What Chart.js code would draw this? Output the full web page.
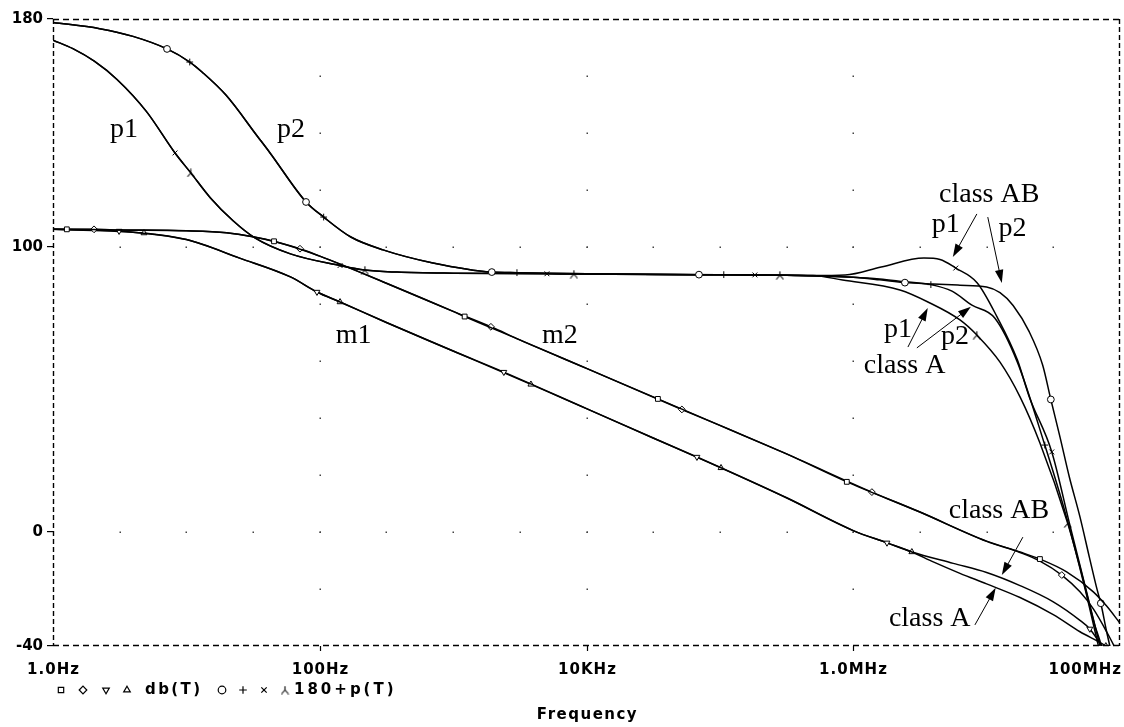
<!DOCTYPE html>
<html>
<head>
<meta charset="utf-8">
<script src="https://cdn.jsdelivr.net/npm/chart.js@4.4.1/dist/chart.umd.min.js"></script>
<style>
  html, body { margin: 0; padding: 0; background: #fff; }
  #wrap { width: 1124px; height: 727px; }
</style>
</head>
<body>
<div id="wrap"><canvas id="bode" width="1124" height="727"></canvas></div>
<script>
// ---- axis ticks ----
const xTickValues = [1, 100, 1e4, 1e6, 1e8];
const xTickLabels = ['1.0Hz', '100Hz', '10KHz', '1.0MHz', '100MHz'];
const yTickValues = [-40, 0, 100, 180];

// ---- db(T): m2, class AB (square) ----
const m2AbFreq = [1, 1.27, 3.16, 10, 20, 31.6, 45.4, 100, 316, 1000, 1220, 3160, 1e4, 34300, 1e5, 316000, 895000, 3.16e6, 1e7, 1.78e7, 2.51e7, 3.98e7, 6.31e7, 7.94e7, 1e8];
const m2AbDb   = [106.2, 106.2, 106.0, 105.7, 105.0, 103.6, 102.0, 96.8, 87.3, 77.4, 75.6, 67.4, 57.4, 46.7, 37.4, 27.4, 17.6, 7.0, -3.2, -7.0, -9.5, -14.0, -21.0, -26.0, -32.0];
const m2AbMarks = [1.27, 45.4, 1220, 34300, 895000, 2.51e7];

// ---- db(T): m2, class A (diamond) ----
const m2AFreq = [1, 2.03, 3.16, 10, 20, 31.6, 71.1, 100, 316, 1000, 1920, 3160, 1e4, 51900, 1e5, 316000, 1.38e6, 3.16e6, 1e7, 1.78e7, 2.51e7, 3.66e7, 5.01e7, 6.31e7, 7.94e7, 1e8];
const m2ADb   = [106.2, 106.2, 106.0, 105.7, 105.0, 103.6, 99.4, 96.8, 87.3, 77.4, 72.0, 67.4, 57.4, 43.0, 37.4, 27.4, 14.0, 7.0, -3.3, -7.2, -10.2, -15.1, -21.0, -27.0, -35.0, -44.0];
const m2AMarks = [2.03, 71.1, 1920, 51900, 1.38e6, 3.66e7];

// ---- db(T): m1, class AB (triangle down) ----
const m1AbFreq = [1, 3.13, 10, 25.1, 60.3, 95.3, 142, 316, 1000, 2400, 1e4, 31600, 67300, 316000, 1e6, 1.79e6, 2.75e6, 5.62e6, 1e7, 1.78e7, 3.16e7, 5.01e7, 5.94e7, 7.08e7, 1e8];
const m1AbDb   = [106.2, 105.6, 102.6, 96.1, 89.5, 84.2, 80.7, 73.5, 63.5, 56.1, 43.3, 33.0, 26.3, 12.0, 0.5, -3.8, -7.0, -11.0, -14.2, -18.8, -24.5, -31.0, -34.0, -39.0, -48.0];
const m1AbMarks = [3.13, 95.3, 2400, 67300, 1.79e6, 5.94e7];

// ---- db(T): m1, class A (triangle up) ----
const m1AFreq = [1, 4.81, 10, 25.1, 60.3, 95.3, 142, 316, 1000, 3830, 1e4, 31600, 102000, 316000, 1e6, 1.79e6, 2.75e6, 3.98e6, 6.31e6, 1e7, 1.78e7, 3.16e7, 5.01e7, 7.83e7, 1e8];
const m1ADb   = [106.2, 104.9, 102.6, 96.1, 89.5, 84.2, 80.7, 73.5, 63.5, 51.8, 43.3, 33.0, 22.5, 12.0, 0.5, -3.8, -7.0, -10.5, -14.5, -18.2, -23.0, -29.0, -35.0, -40.0, -44.0];
const m1AMarks = [4.81, 142, 3830, 102000, 2.75e6, 7.83e7];

// ---- 180+p(T): p2, class AB (circle) ----
const p2AbFreq  = [1, 2.24, 3.98, 7.16, 10.6, 13.1, 19.8, 34.4, 42.4, 78.9, 107, 171, 298, 706, 1950, 3010, 1e4, 69700, 107000, 316000, 1e6, 1.58e6, 2.44e6, 3.98e6, 6.31e6, 1e7, 1.26e7, 1.58e7, 2.09e7, 2.63e7, 3.03e7, 3.55e7, 4.17e7, 5.01e7, 5.89e7, 6.76e7, 7.18e7, 7.94e7, 1e8];
const p2AbPhase = [178.8, 176.6, 173.9, 169.5, 164.9, 161.4, 153.3, 138.6, 133.0, 115.8, 110.5, 103.5, 99.0, 94.4, 91.2, 91.0, 90.6, 90.3, 90.3, 90.1, 89.4, 88.5, 87.5, 87.0, 86.6, 86.0, 84.0, 79.5, 70.2, 58.6, 46.5, 33.3, 19.3, 5.3, -8.8, -20.5, -25.0, -35.0, -55.0];
const p2AbMarks = [7.16, 78.9, 1950, 69700, 2.44e6, 3.03e7, 7.18e7];

// ---- 180+p(T): p2, class A (plus) ----
const p2AFreq  = [1, 2.24, 3.98, 7.16, 10.6, 13.1, 19.8, 34.4, 42.4, 78.9, 107, 171, 298, 706, 1950, 3010, 1e4, 69700, 107000, 316000, 1e6, 1.58e6, 2.44e6, 3.82e6, 5.5e6, 7.76e6, 1.15e7, 1.7e7, 2.73e7, 3.89e7, 5.5e7, 6.46e7, 7.94e7, 1e8];
const p2APhase = [178.8, 176.6, 173.9, 169.5, 164.9, 161.4, 153.3, 138.6, 133.0, 115.8, 110.5, 103.5, 99.0, 94.4, 91.2, 91.0, 90.6, 90.3, 90.3, 90.1, 89.4, 88.8, 87.8, 86.8, 84.5, 79.6, 75.1, 59.6, 30.5, 6.7, -20.4, -34.4, -52.0, -70.0];
const p2AMarks = [10.6, 107, 3010, 107000, 3.82e6, 2.73e7];

// ---- 180+p(T): p1, class AB (x) ----
const p1AbFreq  = [1, 1.41, 2.04, 3.02, 5.01, 8.22, 10.8, 15.1, 22.4, 32.4, 60.3, 142, 218, 380, 1000, 5050, 8050, 1e5, 183000, 282000, 500000, 871000, 1.62e6, 3.39e6, 4.47e6, 5.87e6, 8.51e6, 1.2e7, 1.7e7, 2.09e7, 3.08e7, 4.17e7, 5.89e7, 7.08e7, 1e8];
const p1AbPhase = [172.6, 169.6, 165.2, 158.8, 147.6, 133.0, 126.0, 117.3, 109.2, 103.3, 97.6, 93.5, 91.9, 91.2, 90.8, 90.6, 90.5, 90.3, 90.2, 90.1, 90.0, 90.2, 93.0, 96.1, 95.6, 92.6, 87.4, 75.4, 60.4, 47.4, 28.1, 3.2, -24.9, -40.0, -70.0];
const p1AbMarks = [8.22, 142, 5050, 183000, 5.87e6, 3.08e7];

// ---- 180+p(T): p1, class A (inverted Y) ----
const p1AFreq  = [1, 1.41, 2.04, 3.02, 5.01, 8.22, 10.8, 15.1, 22.4, 32.4, 60.3, 142, 218, 380, 1000, 5050, 8050, 1e5, 183000, 282000, 500000, 832000, 2.24e6, 3.63e6, 6.31e6, 8.45e6, 1.26e7, 1.78e7, 2.51e7, 4.06e7, 5.01e7, 6.46e7, 7.24e7, 1e8];
const p1APhase = [172.6, 169.6, 165.2, 158.8, 147.6, 133.0, 126.0, 117.3, 109.2, 103.3, 97.6, 93.5, 91.9, 91.2, 90.8, 90.6, 90.5, 90.3, 90.2, 90.1, 90.0, 88.4, 84.9, 80.7, 74.4, 69.1, 59.6, 47.4, 31.2, 3.0, -12.3, -32.6, -40.0, -75.0];
const p1AMarks = [10.8, 218, 8050, 282000, 8.45e6, 4.06e7];

// ---- hand-written notes: [text, frequency, value] at the text baseline start ----
const noteTexts = [
  ['p1', 2.67, 138.6], ['p2', 47.8, 138.6],
  ['m1', 132, 66.3], ['m2', 4630, 66.3],
  ['class AB', 4.4e6, 115.8], ['p1', 3.88e6, 105.3], ['p2', 1.23e7, 103.9],
  ['p1', 1.70e6, 68.4], ['p2', 4.54e6, 66.0], ['class A', 1.2e6, 55.8],
  ['class AB', 5.2e6, 4.9], ['class A', 1.85e6, -33.0]
];
// arrows: [fromFreq, fromValue, toFreq, toValue]
const noteArrows = [
  [8.45e6, 111.6, 5.58e6, 96.5],
  [1.02e7, 110.5, 1.30e7, 87.4],
  [2.57e6, 64.9, 3.62e6, 78.6],
  [3.0e6, 64.6, 7.62e6, 79.0],
  [1.87e7, -1.8, 1.30e7, -15.1],
  [8.17e6, -32.6, 1.17e7, -19.6]
];

// inverted-Y marker glyph
const invY = document.createElement('canvas');
invY.width = 9; invY.height = 9;
(function () {
  const g = invY.getContext('2d');
  g.strokeStyle = '#000'; g.lineWidth = 1.1;
  g.beginPath();
  g.moveTo(4.5, 0.5); g.lineTo(4.5, 4.5);
  g.moveTo(1, 8.5); g.lineTo(4.5, 4.5); g.lineTo(8, 8.5);
  g.stroke();
})();

const MARK_R = 3.4;
function trace(label, freq, vals, marks, style, rotation) {
  return {
    label,
    data: freq.map((f, i) => ({ x: f, y: vals[i] })),
    borderColor: '#000',
    borderWidth: 1.5,
    cubicInterpolationMode: 'monotone',
    pointStyle: style,
    pointRotation: rotation || 0,
    pointBorderColor: '#000',
    pointBackgroundColor: '#fff',
    pointBorderWidth: 1,
    pointRadius: c => (c.raw && marks.includes(c.raw.x)) ? MARK_R : 0,
    pointHoverRadius: 0
  };
}

const datasets = [
  trace('db(T) m2 class AB', m2AbFreq, m2AbDb, m2AbMarks, 'rect'),
  trace('db(T) m2 class A', m2AFreq, m2ADb, m2AMarks, 'rectRot'),
  trace('db(T) m1 class AB', m1AbFreq, m1AbDb, m1AbMarks, 'triangle', 180),
  trace('db(T) m1 class A', m1AFreq, m1ADb, m1AMarks, 'triangle'),
  trace('180+p(T) p2 class AB', p2AbFreq, p2AbPhase, p2AbMarks, 'circle'),
  trace('180+p(T) p2 class A', p2AFreq, p2APhase, p2AMarks, 'cross'),
  trace('180+p(T) p1 class AB', p1AbFreq, p1AbPhase, p1AbMarks, 'crossRot'),
  trace('180+p(T) p1 class A', p1AFreq, p1APhase, p1AMarks, invY)
];

const AXIS_FONT = 'bold 15px "DejaVu Sans"';
const NOTE_FONT = '28px "Liberation Serif"';

function drawArrow(ctx, x0, y0, x1, y1) {
  const ang = Math.atan2(y1 - y0, x1 - x0);
  const len = 13, half = 4.2;
  ctx.beginPath();
  ctx.moveTo(x0, y0);
  ctx.lineTo(x1 - Math.cos(ang) * (len - 2), y1 - Math.sin(ang) * (len - 2));
  ctx.stroke();
  ctx.beginPath();
  ctx.moveTo(x1, y1);
  ctx.lineTo(x1 - Math.cos(ang) * len - Math.sin(ang) * half, y1 - Math.sin(ang) * len + Math.cos(ang) * half);
  ctx.lineTo(x1 - Math.cos(ang) * len + Math.sin(ang) * half, y1 - Math.sin(ang) * len - Math.cos(ang) * half);
  ctx.closePath();
  ctx.fill();
}

const probeFrame = {
  id: 'probeFrame',
  beforeDraw(chart) {
    const ctx = chart.ctx;
    ctx.save();
    ctx.fillStyle = '#fff';
    ctx.fillRect(0, 0, chart.width, chart.height);
    ctx.restore();
  },
  beforeDatasetsDraw(chart) {
    const ctx = chart.ctx, xs = chart.scales.x, ys = chart.scales.y;
    ctx.save();
    ctx.fillStyle = '#444';
    // dotted grid: columns at the inner decade labels, rows at 100 and 0
    [100, 1e4, 1e6].forEach(f => {
      const x = Math.round(xs.getPixelForValue(f));
      for (let v = -20; v <= 160; v += 20) {
        ctx.fillRect(x - 0.5, Math.round(ys.getPixelForValue(v)) - 0.5, 1.5, 1.5);
      }
    });
    [100, 0].forEach(v => {
      const y = Math.round(ys.getPixelForValue(v));
      for (let k = 1; k < 16; k++) {
        ctx.fillRect(Math.round(xs.getPixelForValue(Math.pow(10, k / 2))) - 0.5, y - 0.5, 1.5, 1.5);
      }
    });
    ctx.restore();
  },
  afterDatasetsDraw(chart) {
    const ctx = chart.ctx, xs = chart.scales.x, ys = chart.scales.y;
    const a = chart.chartArea;
    ctx.save();
    // dashed frame
    ctx.strokeStyle = '#000';
    ctx.lineWidth = 1.4;
    ctx.setLineDash([6, 4]);
    ctx.beginPath();
    ctx.moveTo(a.left, a.top + 0.5); ctx.lineTo(a.right, a.top + 0.5);
    ctx.moveTo(a.left, a.bottom - 0.5); ctx.lineTo(a.right, a.bottom - 0.5);
    ctx.stroke();
    ctx.setLineDash([5, 3]);
    ctx.beginPath();
    ctx.moveTo(a.left + 0.5, a.top); ctx.lineTo(a.left + 0.5, a.bottom);
    ctx.moveTo(a.right - 0.5, a.top); ctx.lineTo(a.right - 0.5, a.bottom);
    ctx.stroke();
    ctx.setLineDash([]);

    // x ticks and labels
    ctx.lineWidth = 1.2;
    ctx.fillStyle = '#000';
    ctx.font = AXIS_FONT;
    ctx.letterSpacing = '1px';
    ctx.textBaseline = 'middle';
    xTickValues.forEach((f, i) => {
      const x = Math.round(xs.getPixelForValue(f)) + 0.5;
      if (i > 0 && i < xTickValues.length - 1) {
        ctx.beginPath(); ctx.moveTo(x, a.bottom); ctx.lineTo(x, a.bottom + 5); ctx.stroke();
      }
      const last = i === xTickValues.length - 1;
      ctx.textAlign = last ? 'right' : 'center';
      ctx.fillText(xTickLabels[i], last ? a.right + 2 : x, a.bottom + 24);
    });

    // legend row
    const ly = a.bottom + 44;
    const sym = [
      ['rect', 61, 0], ['rectRot', 83, 0], ['triangle', 106, 180], ['triangle', 127, 0],
      ['circle', 222, 0], ['cross', 243, 0], ['crossRot', 264, 0], [invY, 285, 0]
    ];
    ctx.strokeStyle = '#000';
    ctx.fillStyle = '#fff';
    ctx.lineWidth = 1.2;
    sym.forEach(s => {
      Chart.helpers.drawPoint(ctx, { pointStyle: s[0], rotation: s[2], radius: 3.8, borderWidth: 1.2 }, s[1], ly);
    });
    ctx.fillStyle = '#000';
    ctx.textAlign = 'left';
    ctx.letterSpacing = '2.4px';
    ctx.fillText('db(T)', 145, ly);
    ctx.letterSpacing = '3px';
    ctx.fillText('180+p(T)', 294, ly);

    // x axis title
    ctx.letterSpacing = '1.5px';
    ctx.textAlign = 'center';
    ctx.fillText('Frequency', (a.left + a.right) / 2 + 1, a.bottom + 69);
    ctx.letterSpacing = '0px';

    // hand-written notes and arrows
    ctx.font = NOTE_FONT;
    ctx.textAlign = 'left';
    ctx.textBaseline = 'alphabetic';
    noteTexts.forEach(n => {
      ctx.fillText(n[0], xs.getPixelForValue(n[1]), ys.getPixelForValue(n[2]));
    });
    ctx.lineWidth = 1;
    ctx.strokeStyle = '#000';
    noteArrows.forEach(r => {
      drawArrow(ctx, xs.getPixelForValue(r[0]), ys.getPixelForValue(r[1]),
                xs.getPixelForValue(r[2]), ys.getPixelForValue(r[3]));
    });
    ctx.restore();
  }
};

new Chart(document.getElementById('bode'), {
  type: 'line',
  data: { datasets },
  options: {
    responsive: false,
    animation: false,
    events: [],
    layout: { padding: { left: 0, top: 19, right: 4, bottom: 81 } },
    plugins: { legend: { display: false }, tooltip: { enabled: false } },
    scales: {
      x: { type: 'logarithmic', min: 1, max: 1e8, display: false },
      y: {
        type: 'linear', min: -40, max: 180,
        afterBuildTicks: s => { s.ticks = yTickValues.map(v => ({ value: v })); },
        afterFit: s => { s.width = 53; },
        ticks: { color: '#000', font: { family: 'DejaVu Sans', size: 15, weight: 'bold' }, padding: 4, autoSkip: false },
        grid: { drawOnChartArea: false, drawTicks: true, tickLength: 6, color: '#000', lineWidth: 1.2 },
        border: { display: false }
      }
    }
  },
  plugins: [probeFrame]
});
</script>
</body>
</html>
